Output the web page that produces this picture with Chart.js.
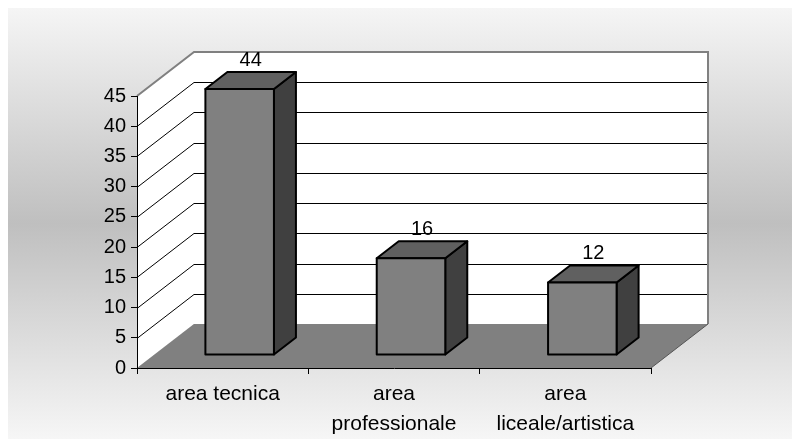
<!DOCTYPE html>
<html>
<head>
<meta charset="utf-8">
<script src="https://cdn.jsdelivr.net/npm/chart.js@4/dist/chart.umd.min.js"></script>
<style>
  html, body { margin: 0; padding: 0; background: #fff; }
  #wrap { width: 792px; height: 439px; position: relative; }
</style>
</head>
<body>
<div id="wrap"><canvas id="chart"></canvas></div>
<script>
// Chart data
const categories = [['area tecnica'], ['area', 'professionale'], ['area', 'liceale/artistica']]
const values = [44, 16, 12]
const yMin = 0
const yMax = 45
const yStep = 5

// 3D look (oblique projection)
const DEPTH_X = 57, DEPTH_Y = -44      // wall/floor depth
const BAR_OFF_X = 17, BAR_OFF_Y = -13  // bar front face offset
const BAR_D_X = 22, BAR_D_Y = -17      // bar depth

const FONT = '"Liberation Sans", Arial, sans-serif'

const threeD = {
  id: 'threeD',
  beforeDraw(chart) {
    const ctx = chart.ctx
    const y = chart.scales.y
    const area = chart.chartArea
    const l = area.left, r = area.right
    const y0 = y.getPixelForValue(yMin)
    const yTop = y.getPixelForValue(yMax)

    ctx.save()
    ctx.fillStyle = '#fff'
    ctx.fillRect(0, 0, chart.width, chart.height)
    const g = ctx.createLinearGradient(0, 8, 0, chart.height)
    g.addColorStop(0, '#f5f5f5')
    g.addColorStop(0.5, '#bfbfbf')
    g.addColorStop(1, '#f6f6f6')
    ctx.fillStyle = g
    ctx.fillRect(8, 8, chart.width - 8, chart.height - 8)

    // left wall
    ctx.fillStyle = '#fff'
    ctx.beginPath()
    ctx.moveTo(l, y0)
    ctx.lineTo(l, yTop)
    ctx.lineTo(l + DEPTH_X, yTop + DEPTH_Y)
    ctx.lineTo(l + DEPTH_X, y0 + DEPTH_Y)
    ctx.closePath()
    ctx.fill()

    // back wall
    ctx.fillRect(l + DEPTH_X, yTop + DEPTH_Y, r - l, y0 - yTop)

    // gridlines
    ctx.strokeStyle = '#000'
    ctx.lineWidth = 1
    for (let v = yMin + yStep; v < yMax; v += yStep) {
      const py = Math.round(y.getPixelForValue(v)) + 0.5
      ctx.beginPath()
      ctx.moveTo(l, py)
      ctx.lineTo(l + DEPTH_X, py + DEPTH_Y)
      ctx.lineTo(r + DEPTH_X, py + DEPTH_Y)
      ctx.stroke()
    }

    // wall border
    ctx.strokeStyle = '#808080'
    ctx.lineWidth = 2
    ctx.beginPath()
    ctx.moveTo(l, yTop)
    ctx.lineTo(l + DEPTH_X, yTop + DEPTH_Y)
    ctx.lineTo(r + DEPTH_X, yTop + DEPTH_Y)
    ctx.lineTo(r + DEPTH_X, y0 + DEPTH_Y)
    ctx.stroke()

    // floor
    ctx.fillStyle = '#808080'
    ctx.beginPath()
    ctx.moveTo(l, y0)
    ctx.lineTo(r, y0)
    ctx.lineTo(r + DEPTH_X, y0 + DEPTH_Y)
    ctx.lineTo(l + DEPTH_X, y0 + DEPTH_Y)
    ctx.closePath()
    ctx.fill()
    ctx.strokeStyle = '#555'
    ctx.lineWidth = 1
    ctx.beginPath()
    ctx.moveTo(r, y0)
    ctx.lineTo(r + DEPTH_X, y0 + DEPTH_Y)
    ctx.stroke()
    ctx.restore()
  },
  afterDatasetsDraw(chart) {
    const ctx = chart.ctx
    const meta = chart.getDatasetMeta(0)
    ctx.save()
    ctx.lineWidth = 2
    ctx.strokeStyle = '#000'
    ctx.lineJoin = 'round'
    meta.data.forEach((bar, i) => {
      const w = bar.width
      const x1 = bar.x - w / 2 + BAR_OFF_X
      const x2 = bar.x + w / 2 + BAR_OFF_X
      const top = bar.y + BAR_OFF_Y
      const bot = bar.base + BAR_OFF_Y

      // side
      ctx.fillStyle = '#404040'
      ctx.beginPath()
      ctx.moveTo(x2, bot)
      ctx.lineTo(x2, top)
      ctx.lineTo(x2 + BAR_D_X, top + BAR_D_Y)
      ctx.lineTo(x2 + BAR_D_X, bot + BAR_D_Y)
      ctx.closePath()
      ctx.fill()
      ctx.stroke()

      // top
      ctx.fillStyle = '#606060'
      ctx.beginPath()
      ctx.moveTo(x1, top)
      ctx.lineTo(x1 + BAR_D_X, top + BAR_D_Y)
      ctx.lineTo(x2 + BAR_D_X, top + BAR_D_Y)
      ctx.lineTo(x2, top)
      ctx.closePath()
      ctx.fill()
      ctx.stroke()

      // front
      ctx.fillStyle = '#808080'
      ctx.fillRect(x1, top, x2 - x1, bot - top)
      ctx.strokeRect(x1, top, x2 - x1, bot - top)

      // value label
      ctx.fillStyle = '#000'
      ctx.font = '20px ' + FONT
      ctx.textAlign = 'center'
      ctx.textBaseline = 'middle'
      ctx.fillText(String(values[i]), bar.x + BAR_OFF_X + BAR_D_X / 2, top + BAR_D_Y - 12)
    })
    ctx.restore()
  }
}

const ctx = document.getElementById('chart').getContext('2d')
new Chart(ctx, {
  type: 'bar',
  data: {
    labels: categories,
    datasets: [{
      data: values,
      backgroundColor: 'rgba(0,0,0,0)',
      borderWidth: 0,
      categoryPercentage: 1,
      barPercentage: 0.4
    }]
  },
  options: {
    responsive: true,
    maintainAspectRatio: false,
    animation: false,
    layout: { padding: { top: 96, right: 141, left: 0, bottom: 0 } },
    plugins: {
      legend: { display: false },
      tooltip: { enabled: false }
    },
    scales: {
      y: {
        min: yMin,
        max: yMax,
        afterFit: (s) => { s.width = 137 },
        ticks: { stepSize: yStep, color: '#000', padding: 5, font: { family: FONT, size: 20 } },
        grid: { drawOnChartArea: false, tickLength: 6, color: '#000' },
        border: { color: '#000', width: 1 }
      },
      x: {
        afterFit: (s) => { s.height = 71 },
        ticks: { color: '#000', padding: 6, maxRotation: 0, font: { family: FONT, size: 21, lineHeight: 1.4 } },
        grid: { offset: true, drawOnChartArea: false, tickLength: 6, color: '#000' },
        border: { color: '#000', width: 1 }
      }
    }
  },
  plugins: [threeD]
})
</script>
</body>
</html>
